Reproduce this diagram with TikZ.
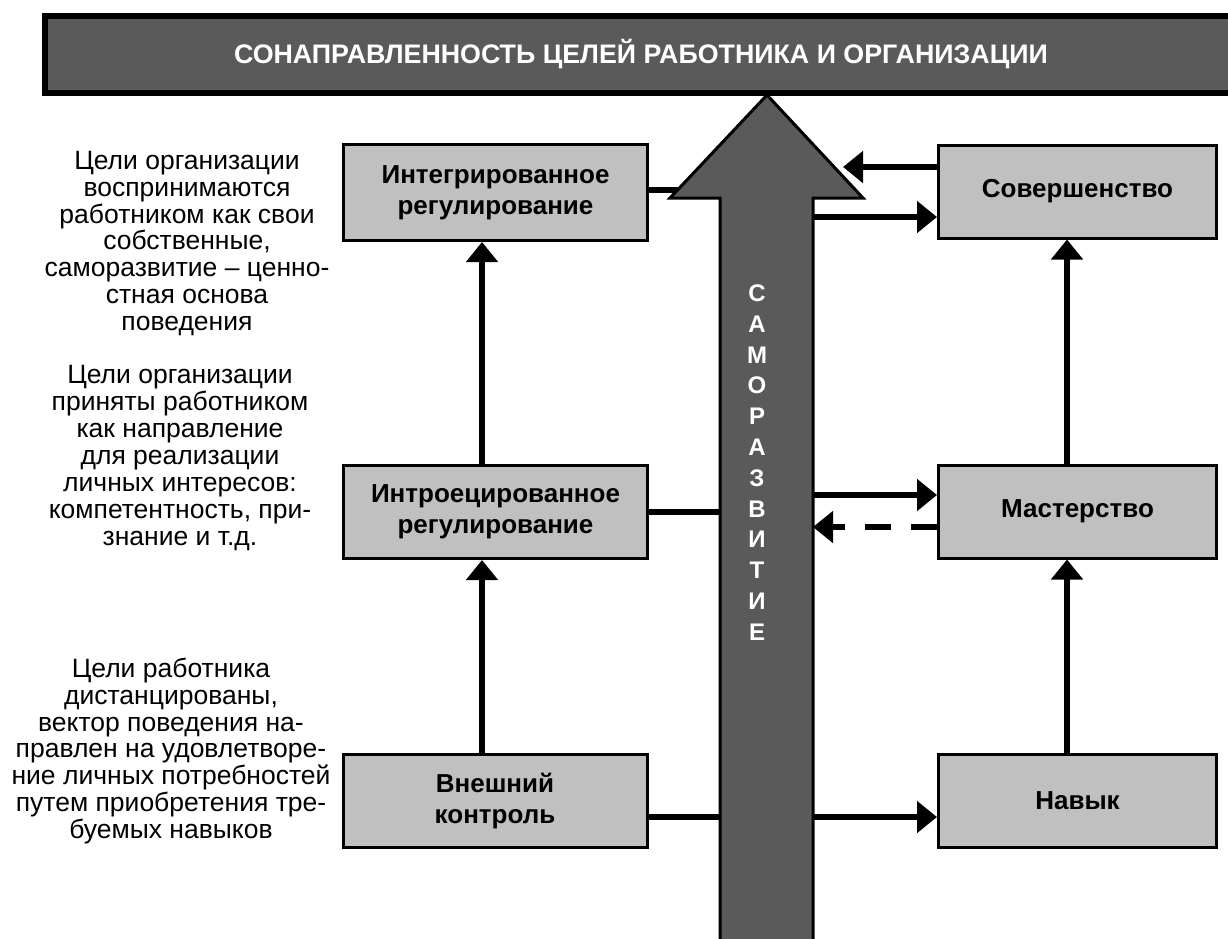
\documentclass[tikz,border=0pt]{standalone}
\usepackage{fontspec}
\setmainfont{Liberation Sans}
\usepackage{tikz}
\usetikzlibrary{arrows.meta,positioning,calc}
\definecolor{darkgrey}{HTML}{5A5A5A}
\definecolor{boxgrey}{HTML}{C0C0C0}
\tikzset{>={Triangle[length=20pt,width=31pt]}}
\tikzset{
  stage/.style={draw=black,line width=3pt,fill=boxgrey,align=center,
    minimum width=304pt,inner sep=0pt,
    font=\bfseries\fontsize{26}{31}\selectfont},
  level/.style={draw=black,line width=3pt,fill=boxgrey,align=center,
    minimum width=278pt,minimum height=93pt,inner sep=0pt,
    font=\bfseries\fontsize{26}{31}\selectfont},
  note/.style={align=center,inner sep=0pt,font=\fontsize{26.5}{26.9}\selectfont},
  conn/.style={line width=6pt},
}
\begin{document}
\begin{tikzpicture}[x=1pt,y=-1pt]
  \useasboundingbox (0,0) rectangle (1228,938);
  % banner
  \node [draw=black,line width=6pt,fill=darkgrey,text=white,
         minimum width=1193pt,minimum height=77pt,
         font=\bfseries\fontsize{26.8}{30}\selectfont]
        (goal) at (641,54.5) {СОНАПРАВЛЕННОСТЬ ЦЕЛЕЙ РАБОТНИКА И ОРГАНИЗАЦИИ};

  % left column
  \node [stage,minimum height=96pt] (ig) at (495.5,192.5) {Интегрированное\\регулирование};
  \node [stage,minimum height=93pt] (ie) at (495.5,512) {Интроецированное\\регулирование};
  \node [stage,minimum height=93pt] (vk) at (495,801) {Внешний\\контроль};

  % right column
  \node [level] (sv) at (1077.5,191.5) {Совершенство};
  \node [level] (ms) at (1077.5,511.5) {Мастерство};
  \node [level] (nv) at (1077.5,800.5) {Навык};

  % notes
  \node [note] (n1) at (187,243.5) {Цели организации\\воспринимаются\\работником как свои\\собственные,\\саморазвитие – ценно-\\стная основа\\поведения};
  \node [note] (n2) at (180,458) {Цели организации\\приняты работником\\как направление\\для реализации\\личных интересов:\\компетентность, при-\\знание и т.д.};
  \node [note] (n3) at (171,751) {Цели работника\\дистанцированы,\\вектор поведения на-\\правлен на удовлетворе-\\ние личных потребностей\\путем приобретения тре-\\буемых навыков};

  \coordinate (lx) at (482,0);
  \coordinate (rx) at (1067,0);
  \coordinate (shL) at (720,0);
  \coordinate (shR) at (813,0);
  \coordinate (hd) at (843,0);

  % steps up
  \draw [conn,->] (vk.north -| lx) -- (ie.south -| lx);
  \draw [conn,->] (ie.north -| lx) -- (ig.south -| lx);
  \draw [conn,->] (nv.north -| rx) -- (ms.south -| rx);
  \draw [conn,->] (ms.north -| rx) -- (sv.south -| rx);

  % links to the shaft
  \draw [conn] ([yshift=2.5]ig.east) -- ([yshift=2.5]ig.east -| shL);
  \draw [conn] (ie.east) -- (ie.east -| shL);
  \draw [conn] ([yshift=-16]vk.east) -- ([yshift=-16]vk.east -| shL);
  \draw [conn,->] ([yshift=24.5]sv.west) -- ([yshift=24.5]sv.west -| hd);
  \draw [conn,->] ([yshift=-25.5]sv.west -| shR) -- ([yshift=-25.5]sv.west);
  \draw [conn,->] ([yshift=16.5]ms.west -| shR) -- ([yshift=16.5]ms.west);
  \draw [conn,->,dash pattern=on 26pt off 20pt] ([yshift=-15.5]ms.west) -- ([yshift=-15.5]ms.west -| shR);
  \draw [conn,->] ([yshift=-16.5]nv.west -| shR) -- ([yshift=-16.5]nv.west);

  % big arrow
  \draw [line width=3pt,fill=darkgrey,line join=miter]
    (720,945)--(720,198)--(670,198)--(767,95)--(863,198)--(813,198)--(813,945);
  \node [text=white,align=center,inner sep=0pt,
         font=\bfseries\fontsize{24}{30.8}\selectfont]
        (sr) at (757,462.5) {С\\А\\М\\О\\Р\\А\\З\\В\\И\\Т\\И\\Е};
\end{tikzpicture}
\end{document}
